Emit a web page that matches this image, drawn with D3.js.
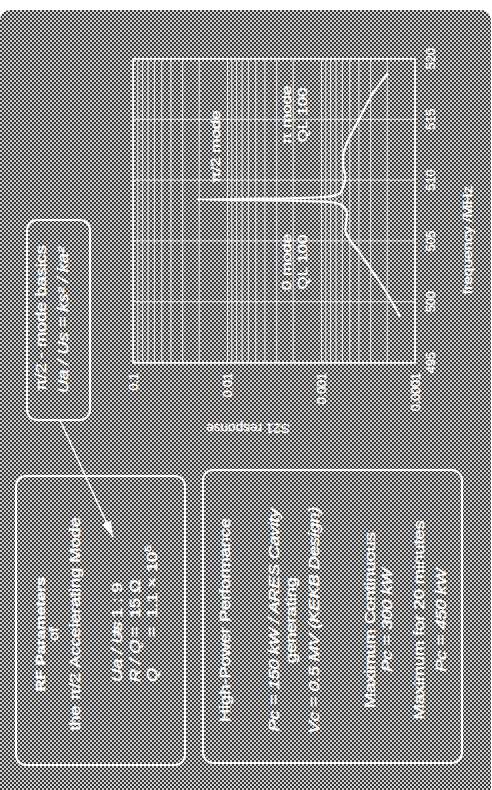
<!DOCTYPE html>
<html>
<head>
<meta charset="utf-8">
<script src="https://cdn.jsdelivr.net/npm/d3@7"></script>
<style>
  html,body{margin:0;padding:0;background:#fff;}
  svg{display:block;}
  text{font-family:"Liberation Sans",Arial,Helvetica,sans-serif;fill:#fff;stroke:#fff;stroke-width:0.35px;}
</style>
</head>
<body>
<svg id="chart" width="492" height="790"></svg>
<script>
// ---- data ----
const freqTicks = [495, 500, 505, 510, 515, 520];
const s21Ticks = [0.1, 0.01, 0.001, 0.0001];
const s21TickLabels = ["0.1", "0.01", "0.001", "0.0001"];
const freqMHz = [498.8, 500.0, 501.25, 502.2, 503.2, 504.2, 505.1, 505.9, 506.6, 507.3, 507.9, 508.2, 508.35, 508.45, 508.55, 508.7, 509.0, 509.5, 510.3, 511.2, 512.0, 513.1, 514.2, 515.2, 516.2, 517.2, 518.0, 518.85];
const s21 = [1.44e-4, 1.75e-4, 2.19e-4, 2.65e-4, 3.24e-4, 4.0e-4, 4.9e-4, 5.5e-4, 5.4e-4, 5.3e-4, 5.8e-4, 7.4e-4, 2.2e-3, 0.021, 2.2e-3, 7.9e-4, 6.2e-4, 5.8e-4, 5.5e-4, 5.8e-4, 5.8e-4, 5.3e-4, 4.5e-4, 3.85e-4, 3.3e-4, 2.8e-4, 2.35e-4, 1.94e-4];
const xTitle = "frequency /MHz";
const yTitle = "S21 response";
const basicsLines = ["π/2 - mode basics", "Ua / Us = ks² / ka²"];
const rfTitleLines = ["RF Parameters", "of", "the π/2 Accelerating Mode"];
const paramNames = ["Ua / Us", "R / Q", "Q"];
const paramValues = ["1 : 9", "15 Ω", "1.1 × 10"];
const paramSup = ["", "", "5"];
const perfLines = ["High-Power Performance", "Pc = 150 kW / ARES Cavity", "generating", "Vc = 0.5 MV (KEKB Design)", "Maximum Continuous", "Pc = 300 kW", "Maximum for 20 minutes", "Pc = 450 kW"];
const modeLabels = [
  {f: 509.8, lines: ["π/2 mode"], anchor: "start"},
  {f: 515.4, lines: ["π mode", "QL 100"], anchor: "middle"},
  {f: 503.3, lines: ["0 mode", "QL 100"], anchor: "middle"}
];

// ---- drawing ----
const svg = d3.select("#chart");
const defs = svg.append("defs");
const pat = defs.append("pattern").attr("id", "ht").attr("width", 4).attr("height", 4).attr("patternUnits", "userSpaceOnUse");
pat.append("rect").attr("width", 4).attr("height", 4).attr("fill", "#d2d2d2");
pat.append("rect").attr("x", 0).attr("y", 0).attr("width", 2).attr("height", 2).attr("fill", "#363636");
pat.append("rect").attr("x", 2).attr("y", 2).attr("width", 2).attr("height", 2).attr("fill", "#363636");
defs.append("marker").attr("id", "arr").attr("viewBox", "0 0 16 10").attr("refX", 16).attr("refY", 5)
  .attr("markerWidth", 16).attr("markerHeight", 10).attr("markerUnits", "userSpaceOnUse").attr("orient", "auto")
  .append("path").attr("d", "M0,0 L16,5 L0,10 Z").attr("fill", "#fff");

svg.append("rect").attr("x", 0).attr("y", 10).attr("width", 491).attr("height", 795).attr("rx", 10).attr("fill", "url(#ht)");

// slide is landscape, rotated 90° counter-clockwise
const slide = svg.append("g").attr("transform", "translate(0,790) rotate(-90)");

function txt(g, str, u, v, o = {}) {
  const t = g.append("text")
    .attr("transform", `translate(${u},${v}) scale(${o.sx || 1.3},1)`)
    .attr("text-anchor", o.anchor || "middle")
    .style("font-size", (o.size || 14) + "px")
    .style("font-weight", o.bold ? "bold" : "normal")
    .style("font-style", o.italic ? "italic" : "normal");
  t.text(str);
  return t;
}

// chart
const x = d3.scaleLinear().domain([495, 520]).range([427, 731]);
const y = d3.scaleLog().domain([1e-4, 0.1]).range([415, 133]);
const ph = y(1e-4) - y(0.1), pw = x(520) - x(495);

const gx = slide.append("g").attr("transform", `translate(0,${y(1e-4)})`)
  .call(d3.axisBottom(x).tickValues(freqTicks).tickSize(-ph).tickFormat(""));
const gy = slide.append("g").attr("transform", `translate(${x(495)},0)`)
  .call(d3.axisLeft(y).tickValues(y.ticks()).tickSize(-pw).tickFormat(""));
[gx, gy].forEach(g => {
  g.select(".domain").remove();
  g.selectAll("line").attr("stroke", "#fff").attr("stroke-width", 1).attr("stroke-opacity", 0.85);
});
slide.append("rect").attr("x", x(495)).attr("y", y(0.1)).attr("width", pw).attr("height", ph)
  .attr("fill", "none").attr("stroke", "#fff").attr("stroke-width", 1.6);

const lx = slide.append("g").attr("transform", `translate(0,${y(1e-4)})`)
  .call(d3.axisBottom(x).tickValues(freqTicks).tickSize(0).tickPadding(11).tickFormat(d3.format("d")));
const ly = slide.append("g").attr("transform", `translate(${x(495)},0)`)
  .call(d3.axisLeft(y).tickValues(s21Ticks).tickSize(0).tickPadding(10).tickFormat((d, i) => s21TickLabels[i]));
[lx, ly].forEach(g => {
  g.select(".domain").remove();
  g.selectAll("text").attr("fill", "#fff").style("font-size", "12.5px").style("font-family", '"Liberation Sans",Arial,sans-serif');
});

const pts = freqMHz.map((f, i) => ({f, s: s21[i]}));
slide.append("path").datum(pts)
  .attr("d", d3.line().x(d => x(d.f)).y(d => y(d.s)).curve(d3.curveMonotoneX))
  .attr("fill", "none").attr("stroke", "#fff").attr("stroke-width", 2.2).attr("stroke-linejoin", "round");

modeLabels.forEach(m => {
  m.lines.forEach((l, i) => {
    const v = m.lines.length === 1 ? 220 : 291 + i * 16;
    txt(slide, l, x(m.f), v, {anchor: m.anchor, size: 13.5, sx: 1.25});
  });
});

txt(slide, xTitle, 550, 472, {size: 13.5, sx: 1.15});
slide.append("text").attr("transform", "translate(361,248) rotate(-90)")
  .attr("text-anchor", "middle").attr("dy", "0.35em").style("font-size", "13.5px").text(yTitle);

// boxes
function box(u0, u1, v0, v1) {
  slide.append("rect").attr("x", u0).attr("y", v0).attr("width", u1 - u0).attr("height", v1 - v0)
    .attr("rx", 10).attr("fill", "none").attr("stroke", "#fff").attr("stroke-width", 2);
}
box(370, 570, 27, 90);
box(25, 314, 16, 185);
box(27, 320, 203, 462);

// basics box
txt(slide, basicsLines[0], 472, 46, {size: 14, sx: 1.3});
txt(slide, basicsLines[1], 470, 68, {size: 14, sx: 1.3, italic: true});

// arrow
slide.append("line").attr("x1", 370).attr("y1", 60).attr("x2", 253).attr("y2", 113)
  .attr("stroke", "#fff").attr("stroke-width", 1.6).attr("marker-end", "url(#arr)");

// RF parameters box
txt(slide, rfTitleLines[0], 156, 45, {size: 13, bold: true, sx: 1.25});
txt(slide, rfTitleLines[1], 156, 58, {size: 13, sx: 1.25});
txt(slide, rfTitleLines[2], 166, 80, {size: 14, sx: 1.3});
paramNames.forEach((n, i) => {
  const v = 122 + i * 17.5;
  txt(slide, n, 108, v, {anchor: "start", size: 14, sx: 1.3, italic: true});
  txt(slide, "=", 158, v, {anchor: "middle", size: 14, sx: 1.3});
  const t = txt(slide, paramValues[i], 172, v, {anchor: "start", size: 14, sx: 1.3});
  if (paramSup[i]) t.append("tspan").attr("dy", -6).style("font-size", "9px").text(paramSup[i]);
});

// performance box
const perfV = [230, 279, 296, 319, 375, 392, 424, 446];
perfLines.forEach((l, i) => {
  txt(slide, l, 170, perfV[i], {size: 14, sx: 1.3, italic: l.startsWith("Pc") || l.startsWith("Vc")});
});
</script>
</body>
</html>
